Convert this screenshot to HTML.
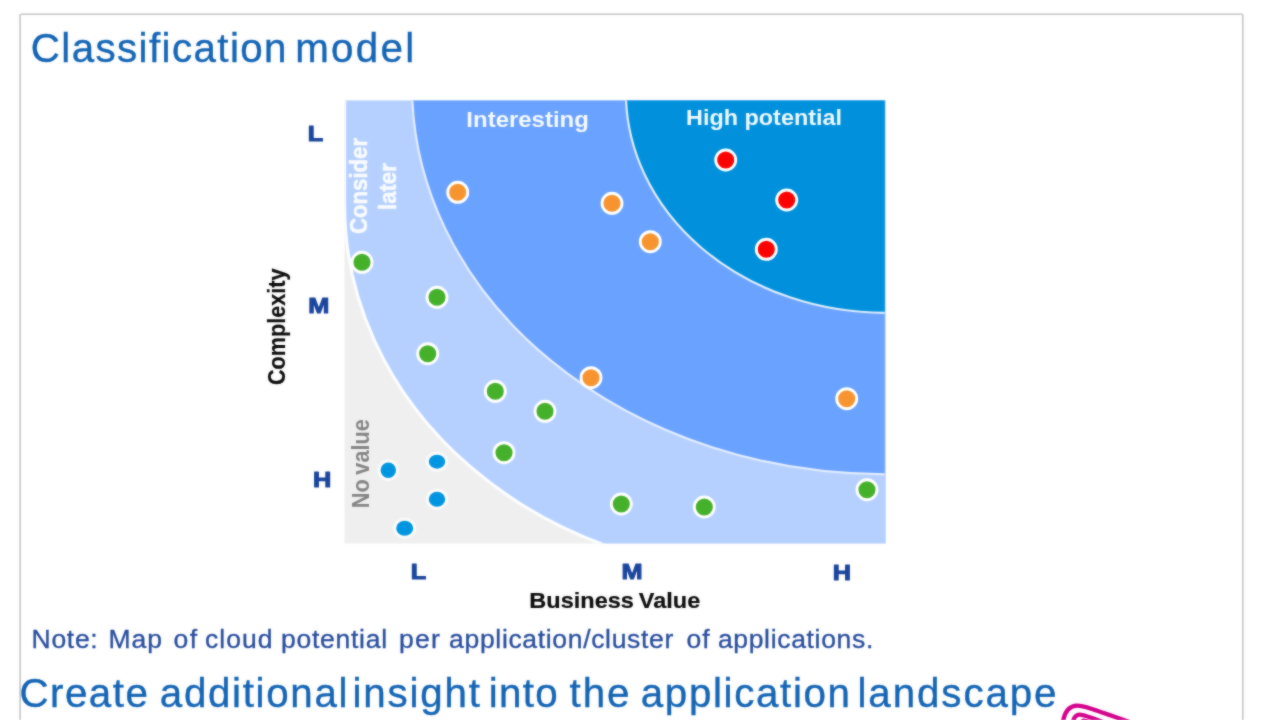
<!DOCTYPE html>
<html lang="en">
<head>
<meta charset="utf-8">
<title>Classification model</title>
<style>
html,body{margin:0;padding:0;background:#fff;}
body{width:1280px;height:720px;position:relative;overflow:hidden;font-family:"Liberation Sans",Arial,Helvetica,sans-serif;}
#frame{position:absolute;left:20px;top:14px;width:1222px;height:720px;background:#fff;}
.t{position:absolute;white-space:pre;line-height:1;margin:0;transform-origin:0 0;}
h1.t,h2.t{font-weight:normal;color:#1263b4;font-size:40.3px;left:0;-webkit-text-stroke:0.4px #1263b4;}
h1.t span,h2.t span{position:absolute;top:0;}
#title{top:29px;}
#sub{top:674px;}
#note{color:#274c9c;font-size:26.5px;top:626px;left:0;-webkit-text-stroke:0.35px #274c9c;}
#note span{position:absolute;top:0;}
svg{position:absolute;left:0;top:0;}
#page{position:absolute;left:0;top:0;width:1280px;height:720px;overflow:hidden;filter:url(#soft);}
</style>
</head>
<body>
<svg width="0" height="0" style="position:absolute"><defs><filter id="soft" x="0" y="0" width="100%" height="100%" color-interpolation-filters="sRGB"><feGaussianBlur in="SourceGraphic" stdDeviation="0.8" result="b"/><feComposite in="SourceGraphic" in2="b" operator="arithmetic" k1="0" k2="0.5" k3="0.5" k4="0"/></filter></defs></svg>
<div id="page">
<div id="frame"></div>
<svg width="1280" height="720" viewBox="0 0 1280 720" font-family="'Liberation Sans',Arial,sans-serif" font-weight="bold">
  <defs>
    <clipPath id="cp"><rect x="344.5" y="100.4" width="541.2" height="443.1"/></clipPath>
    <clipPath id="cp2"><rect x="344.5" y="100.4" width="540.2" height="443.1"/></clipPath>
  </defs>
  <rect x="20.1" y="14.2" width="1222.7" height="740" rx="1" fill="none" stroke="#c6c6c6" stroke-width="1.6"/>
  <g clip-path="url(#cp)">
    <rect x="340" y="96" width="550" height="450" fill="#efefef"/>
    <path d="M344.6 60 L344.6 204.6 A427.3 370 0 0 0 771.9 574.6 L900 574.6 L900 60 Z" fill="#b5d0ff" stroke="#fcfdff" stroke-width="3"/>
  </g>
  <g clip-path="url(#cp2)">
    <ellipse cx="885.3" cy="85.5" rx="473.3" ry="388.8" fill="#6aa2ff" stroke="#e3edff" stroke-width="2.2"/>
    <ellipse cx="885.3" cy="92.4" rx="259.4" ry="220.4" fill="#0090dc" stroke="#dcecfb" stroke-width="2.2"/>
  </g>
  <g stroke="#fff" stroke-width="2.9">
    <g fill="#ff0000">
      <circle cx="725.7" cy="160" r="10"/>
      <circle cx="786.7" cy="200" r="10"/>
      <circle cx="766.3" cy="249.3" r="10"/>
    </g>
    <g fill="#f7942f">
      <circle cx="457.7" cy="192.3" r="10"/>
      <circle cx="612" cy="203.3" r="10"/>
      <circle cx="650.3" cy="241.7" r="10"/>
      <circle cx="591" cy="377.7" r="10"/>
      <circle cx="846.7" cy="398.7" r="10"/>
    </g>
    <g fill="#45b02a">
      <circle cx="362" cy="262.3" r="10"/>
      <circle cx="437" cy="297.3" r="10"/>
      <circle cx="427.7" cy="353.7" r="10"/>
      <circle cx="495.3" cy="391.3" r="10"/>
      <circle cx="545" cy="411.3" r="10"/>
      <circle cx="504" cy="452.7" r="10"/>
      <circle cx="621.3" cy="504" r="10"/>
      <circle cx="704.3" cy="507" r="10"/>
      <circle cx="867" cy="489.7" r="10"/>
    </g>
  </g>
  <g fill="#0095e1" stroke="#fbfbfb" stroke-width="3">
    <ellipse cx="388.3" cy="470.3" rx="9.2" ry="9.2"/>
    <ellipse cx="437" cy="461.7" rx="9.7" ry="8.5"/>
    <ellipse cx="437" cy="499.3" rx="9.7" ry="9"/>
    <ellipse cx="404.7" cy="528.3" rx="10" ry="9"/>
  </g>
  <g fill="#1a459d" stroke="#1a459d" stroke-width="1.1" stroke-linejoin="round" font-size="22.6" text-anchor="middle">
    <text transform="translate(315.6,141.2) scale(1.12,1)">L</text>
    <text transform="translate(318.7,313.2) scale(1.12,1)">M</text>
    <text transform="translate(322.2,486.8) scale(1.12,1)">H</text>
    <text transform="translate(418.5,579.2) scale(1.12,1)">L</text>
    <text transform="translate(632,579.2) scale(1.12,1)">M</text>
    <text transform="translate(842,580) scale(1.12,1)">H</text>
  </g>
  <g fill="#0a0a0a" stroke="#0a0a0a" stroke-width="0.2" stroke-linejoin="round" text-anchor="middle">
    <text transform="translate(614.8,607.5) scale(1.045,1)" font-size="22.5" word-spacing="-1.5">Business Value</text>
    <text transform="translate(285.3,326.8) rotate(-90) scale(0.9,1)" font-size="24">Complexity</text>
  </g>
  <g fill="#fff" fill-opacity="0.94" font-size="22.3" text-anchor="middle">
    <text transform="translate(527.6,127.2) scale(1.075,1)">Interesting</text>
    <text transform="translate(764,124.7) scale(1.05,1)">High potential</text>
  </g>
  <g fill="#fff" fill-opacity="0.9" stroke="#fff" stroke-opacity="0.9" stroke-width="0.5" font-size="24.8" text-anchor="middle">
    <text transform="translate(366.9,186) rotate(-90) scale(0.895,1)">Consider</text>
    <text transform="translate(395.8,186.6) rotate(-90) scale(0.895,1)">later</text>
  </g>
  <text transform="translate(368.7,463.7) rotate(-90) scale(0.945,1)" fill="#848484" font-size="23" font-weight="bold" text-anchor="middle" word-spacing="-1.5">No value</text>
  <g fill="none" stroke="#d3008c" stroke-width="4.3" stroke-linecap="round" stroke-linejoin="round">
    <path d="M1062.6 724 C1064 713 1068 706 1077 705.7 C1082.5 705.5 1089 707.6 1131 722.5"/>
    <path d="M1072.8 724 C1073.4 718 1075.4 714.6 1079.6 714.6 C1084 714.6 1089 716.6 1104 722.5"/>
    <path d="M1081 724 C1081.5 721.6 1083 720.6 1085 720.8 C1088 721 1092 722.4 1098 724.6"/>
  </g>
</svg>
<h1 class="t" id="title"><span style="left:30.8px;letter-spacing:1.41px">Classification </span><span style="left:295.2px;letter-spacing:2.30px">model</span></h1>
<p class="t" id="note"><span style="left:31.6px;letter-spacing:0.69px">Note: </span><span style="left:108.6px;letter-spacing:0.88px">Map </span><span style="left:173.6px;letter-spacing:1.30px">of </span><span style="left:205.1px;letter-spacing:1.00px">cloud </span><span style="left:281.0px;letter-spacing:0.73px">potential </span><span style="left:398.9px;letter-spacing:1.30px">per </span><span style="left:449.1px;letter-spacing:0.67px">application/cluster </span><span style="left:686.6px;letter-spacing:1.00px">of </span><span style="left:717.9px;letter-spacing:0.67px">applications.</span></p>
<h2 class="t" id="sub"><span style="left:19.5px;letter-spacing:1.48px">Create </span><span style="left:159.8px;letter-spacing:1.68px">additional </span><span style="left:352.5px;letter-spacing:1.83px">insight </span><span style="left:488.8px;letter-spacing:1.33px">into </span><span style="left:569.6px;letter-spacing:1.94px">the </span><span style="left:640.8px;letter-spacing:1.65px">application </span><span style="left:857.5px;letter-spacing:1.91px">landscape</span></h2>
</div>
</body>
</html>
